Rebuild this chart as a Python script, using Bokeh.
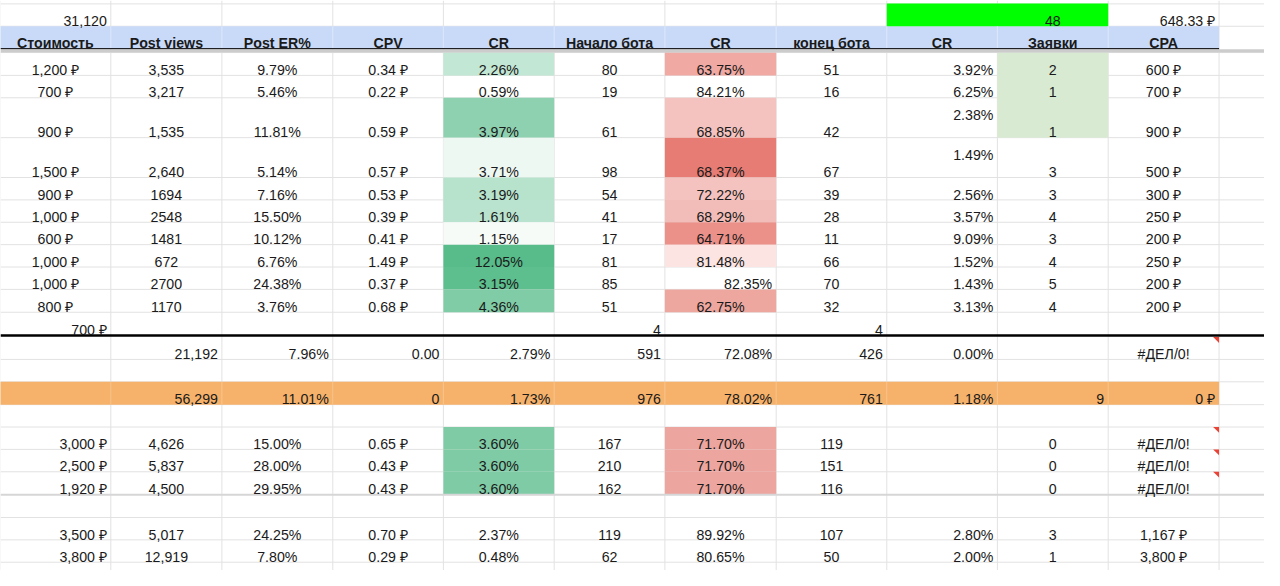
from bokeh.plotting import figure
from bokeh.models import Range1d, ColumnDataSource
from bokeh.core.properties import value
from bokeh.embed import file_html
from bokeh.resources import INLINE

# ---------------- data ----------------
headers = ["Стоимость", "Post views", "Post ER%", "CPV", "CR", "Начало бота",
           "CR", "конец бота", "CR", "Заявки", "CPA"]

top_cost_total = "31,120"
top_leads_total = "48"
top_cpa_avg = "648.33 ₽"

cost = ["1,200 ₽", "700 ₽", "900 ₽", "1,500 ₽", "900 ₽", "1,000 ₽", "600 ₽", "1,000 ₽", "1,000 ₽", "800 ₽"]
views = ["3,535", "3,217", "1,535", "2,640", "1694", "2548", "1481", "672", "2700", "1170"]
post_er = ["9.79%", "5.46%", "11.81%", "5.14%", "7.16%", "15.50%", "10.12%", "6.76%", "24.38%", "3.76%"]
cpv = ["0.34 ₽", "0.22 ₽", "0.59 ₽", "0.57 ₽", "0.53 ₽", "0.39 ₽", "0.41 ₽", "1.49 ₽", "0.37 ₽", "0.68 ₽"]
cr_views = ["2.26%", "0.59%", "3.97%", "3.71%", "3.19%", "1.61%", "1.15%", "12.05%", "3.15%", "4.36%"]
bot_start = ["80", "19", "61", "98", "54", "41", "17", "81", "85", "51"]
cr_bot = ["63.75%", "84.21%", "68.85%", "68.37%", "72.22%", "68.29%", "64.71%", "81.48%", "82.35%", "62.75%"]
bot_end = ["51", "16", "42", "67", "39", "28", "11", "66", "70", "32"]
cr_leads = ["3.92%", "6.25%", "2.38%", "1.49%", "2.56%", "3.57%", "9.09%", "1.52%", "1.43%", "3.13%"]
leads = ["2", "1", "1", "3", "3", "4", "3", "4", "5", "4"]
cpa = ["600 ₽", "700 ₽", "900 ₽", "500 ₽", "300 ₽", "250 ₽", "200 ₽", "250 ₽", "200 ₽", "200 ₽"]

extra_cost = "700 ₽"
extra_start = "4"
extra_end = "4"

totals_row = ["", "21,192", "7.96%", "0.00", "2.79%", "591", "72.08%", "426", "0.00%", "", "#ДЕЛ/0!"]
summary_row = ["", "56,299", "11.01%", "0", "1.73%", "976", "78.02%", "761", "1.18%", "9", "0 ₽"]

b_cost = ["3,000 ₽", "2,500 ₽", "1,920 ₽"]
b_views = ["4,626", "5,837", "4,500"]
b_er = ["15.00%", "28.00%", "29.95%"]
b_cpv = ["0.65 ₽", "0.43 ₽", "0.43 ₽"]
b_cr_views = ["3.60%", "3.60%", "3.60%"]
b_start = ["167", "210", "162"]
b_cr_bot = ["71.70%", "71.70%", "71.70%"]
b_end = ["119", "151", "116"]
b_leads = ["0", "0", "0"]
b_cpa = ["#ДЕЛ/0!", "#ДЕЛ/0!", "#ДЕЛ/0!"]

c_cost = ["3,500 ₽", "3,800 ₽"]
c_views = ["5,017", "12,919"]
c_er = ["24.25%", "7.80%"]
c_cpv = ["0.70 ₽", "0.29 ₽"]
c_cr_views = ["2.37%", "0.48%"]
c_start = ["119", "62"]
c_cr_bot = ["89.92%", "80.65%"]
c_end = ["107", "50"]
c_cr_leads = ["2.80%", "2.00%"]
c_leads = ["3", "1"]
c_cpa = ["1,167 ₽", "3,800 ₽"]

# ---------------- styles ----------------
cr_views_fill = ["#c2e7d4", "#ffffff", "#8dd1b0", "#eef8f3", "#b7e2cc", "#b9e3ce",
                 "#f6fbf8", "#57bb8a", "#5dbe8e", "#80cca6"]
cr_bot_fill = ["#f0a9a3", "#ffffff", "#f4c3bf", "#e67c73", "#f4c3bf", "#f2bdb8",
               "#eb918a", "#fbe4e2", "#ffffff", "#eea79f"]
cr_bot_align = ["center"] * 8 + ["right", "center"]
b_cr_views_fill = "#7fcba6"
b_cr_bot_fill = "#eda59f"
HEADER_BG = "#c9daf8"
ORANGE = "#f6b26b"
BRIGHT_GREEN = "#00ff00"
LEADS_BG = "#d9ead3"
GRID = "#e2e2e2"
TEXT = "#1a1a1a"
FONT_SIZE = "14.2px"

# ---------------- layout ----------------
col_edges = [-0.5, 111.7, 224.2, 336.5, 448.5, 560.7, 672.8, 785.5, 897.5, 1009.5, 1121.7, 1234.0, 1346.0]
row_top = (3.5, 26.5)
row_head = (26.5, 49.5)
main_edges = [53.5, 77, 100, 141, 182, 205, 228, 251, 274, 297, 320.5, 344.5]
row_totals = (344.5, 369)
row_orange = (392, 415.5)
b_edges = [438.5, 461.5, 484.5, 508]
c_edges = [531.5, 554.5, 577.5]
all_h_edges = [3.5, 26.5, 53.5] + main_edges[1:] + [369, 392, 415.5, 438.5, 461.5, 484.5, 531.5, 554.5, 577.5]

W, H = 1264, 570
p = figure(width=W, height=H, x_range=Range1d(0, 1280), y_range=Range1d(586, 0),
           output_backend="svg", toolbar_location=None,
           x_axis_location=None, y_axis_location=None, min_border=0)
p.grid.visible = False
p.outline_line_color = None
p.background_fill_color = "white"
p.border_fill_color = "white"

# grid lines
p.segment(x0=[0] * len(all_h_edges), x1=[1290] * len(all_h_edges), y0=all_h_edges, y1=all_h_edges,
          line_color=GRID, line_width=1)
p.segment(x0=col_edges, x1=col_edges, y0=[0] * len(col_edges), y1=[600] * len(col_edges),
          line_color=GRID, line_width=1)

# fills
fl, fr, ft, fb, fc = [], [], [], [], []
def fill(c0, c1, top, bot, color):
    fl.append(col_edges[c0]); fr.append(col_edges[c1 + 1]); ft.append(top); fb.append(bot); fc.append(color)

fill(0, 10, row_head[0], row_head[1], HEADER_BG)
fill(8, 9, 3.0, row_top[1], BRIGHT_GREEN)
fill(0, 10, row_orange[0], row_orange[1], ORANGE)
fill(9, 9, main_edges[0], main_edges[3], LEADS_BG)
for i in range(10):
    if cr_views_fill[i] != "#ffffff":
        fill(4, 4, main_edges[i], main_edges[i + 1], cr_views_fill[i])
    if cr_bot_fill[i] != "#ffffff":
        fill(6, 6, main_edges[i], main_edges[i + 1], cr_bot_fill[i])
for i in range(3):
    fill(4, 4, b_edges[i], b_edges[i + 1], b_cr_views_fill)
    fill(6, 6, b_edges[i], b_edges[i + 1], b_cr_bot_fill)
p.quad(left=fl, right=fr, top=ft, bottom=fb, fill_color=fc, line_color=None)

# separators inside header and orange row
inner = col_edges[1:11]
p.segment(x0=inner, x1=inner, y0=[row_head[0]] * len(inner), y1=[row_head[1]] * len(inner),
          line_color="#dde7fb", line_width=1)
p.segment(x0=inner, x1=inner, y0=[row_orange[0]] * len(inner), y1=[row_orange[1]] * len(inner),
          line_color="#f8c48c", line_width=1)

# frozen-row divider and borders
p.quad(left=[0], right=[1290], top=[50], bottom=[53.5], fill_color="#cccccc", line_color=None)
p.segment(x0=[0], x1=[col_edges[11]], y0=[49.5], y1=[49.5], line_color="black", line_width=1)
p.segment(x0=[0], x1=[1290], y0=[main_edges[-1]], y1=[main_edges[-1]], line_color="black", line_width=2.5)
p.segment(x0=[0], x1=[1290], y0=[b_edges[-1]], y1=[b_edges[-1]], line_color="#d6d6d6", line_width=2)

# comment markers (red corner triangles)
tri_tops = [row_totals[0] + 1.5] + b_edges[:3]
R = col_edges[11]
p.patches(xs=[[R - 6, R, R] for _ in tri_tops], ys=[[t, t, t + 6] for t in tri_tops],
          fill_color="#ea4335", line_color=None)

# ---------------- texts ----------------
groups = {}
def put(col, top, bot, txt, align="center", valign="bottom", bold=False):
    if txt == "":
        return
    L, Rr = col_edges[col], col_edges[col + 1]
    x = (L + Rr) / 2 if align == "center" else Rr - 4
    y = bot - 5.5 if valign == "bottom" else top + 18
    g = groups.setdefault((align, bold), {"x": [], "y": [], "text": []})
    g["x"].append(x); g["y"].append(y); g["text"].append(txt)

put(0, *row_top, top_cost_total, "right")
put(9, *row_top, top_leads_total)
put(10, *row_top, top_cpa_avg, "right")
for c, h in enumerate(headers):
    put(c, *row_head, h, bold=True)

for i in range(10):
    t, b = main_edges[i], main_edges[i + 1]
    put(0, t, b, cost[i]); put(1, t, b, views[i]); put(2, t, b, post_er[i]); put(3, t, b, cpv[i])
    put(4, t, b, cr_views[i]); put(5, t, b, bot_start[i]); put(6, t, b, cr_bot[i], cr_bot_align[i])
    put(7, t, b, bot_end[i])
    put(8, t, b, cr_leads[i], "right", "top" if i in (2, 3) else "bottom")
    put(9, t, b, leads[i]); put(10, t, b, cpa[i])

t, b = main_edges[10], main_edges[11]
put(0, t, b, extra_cost, "right"); put(5, t, b, extra_start, "right"); put(7, t, b, extra_end, "right")

for c, txt in enumerate(totals_row):
    put(c, *row_totals, txt, "center" if txt.startswith("#") else "right")
for c, txt in enumerate(summary_row):
    put(c, *row_orange, txt, "right")

for i in range(3):
    t, b = b_edges[i], b_edges[i + 1]
    put(0, t, b, b_cost[i], "right"); put(1, t, b, b_views[i]); put(2, t, b, b_er[i]); put(3, t, b, b_cpv[i])
    put(4, t, b, b_cr_views[i]); put(5, t, b, b_start[i]); put(6, t, b, b_cr_bot[i]); put(7, t, b, b_end[i])
    put(9, t, b, b_leads[i]); put(10, t, b, b_cpa[i])

for i in range(2):
    t, b = c_edges[i], c_edges[i + 1]
    put(0, t, b, c_cost[i], "right"); put(1, t, b, c_views[i]); put(2, t, b, c_er[i]); put(3, t, b, c_cpv[i])
    put(4, t, b, c_cr_views[i]); put(5, t, b, c_start[i]); put(6, t, b, c_cr_bot[i]); put(7, t, b, c_end[i])
    put(8, t, b, c_cr_leads[i], "right"); put(9, t, b, c_leads[i]); put(10, t, b, c_cpa[i])

for (align, bold), g in groups.items():
    p.text(x="x", y="y", text="text", source=ColumnDataSource(g),
           text_align=align, text_baseline="alphabetic",
           text_font=value("Liberation Sans"), text_font_size=FONT_SIZE,
           text_font_style="bold" if bold else "normal", text_color=TEXT)

open("out.html", "w").write(file_html(p, INLINE))
